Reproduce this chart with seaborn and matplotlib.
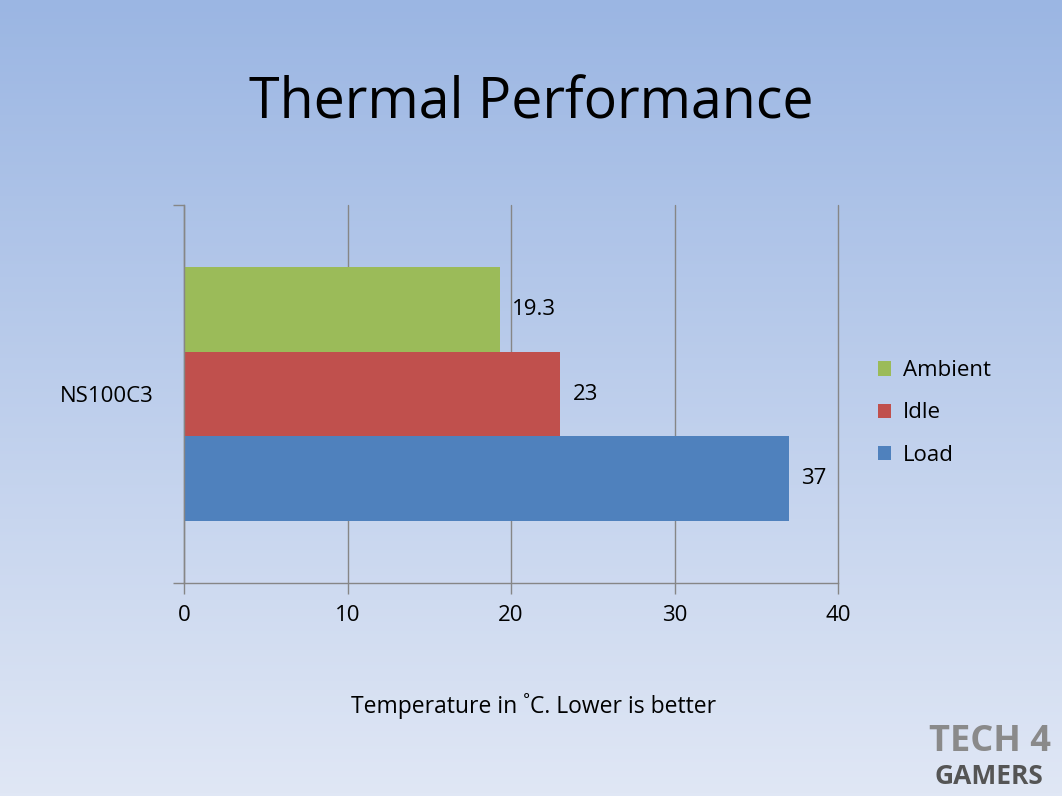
import numpy as np
import pandas as pd
import matplotlib
matplotlib.use("Agg")
import matplotlib.pyplot as plt
import seaborn as sns

# Data
categories = ["NS100C3"]
series = ["Ambient", "Idle", "Load"]
ambient = [19.3]
idle = [23]
load = [37]
xticks = [0, 10, 20, 30, 40]
colors = ["#9BBB59", "#C0504D", "#4F81BD"]

df = pd.DataFrame({
    "cat": categories * 3,
    "series": ["Ambient"] * len(categories) + ["Idle"] * len(categories) + ["Load"] * len(categories),
    "value": ambient + idle + load,
})

sns.set_theme(style="white")
plt.rcParams["font.family"] = ["Open Sans", "DejaVu Sans"]
plt.rcParams["text.color"] = "black"
plt.rcParams["xtick.color"] = "black"
plt.rcParams["ytick.color"] = "black"

fig = plt.figure(figsize=(10.62, 7.96), dpi=100)

# gradient background
bg = fig.add_axes([0, 0, 1, 1], zorder=-10)
top = np.array([155, 182, 227]) / 255
bot = np.array([224, 231, 245]) / 255
t = np.linspace(0, 1, 256)[:, None]
grad = (top[None, :] * (1 - t) + bot[None, :] * t)[:, None, :]
bg.imshow(grad, aspect="auto", extent=[0, 1, 0, 1])
bg.axis("off")

ax = fig.add_axes([184 / 1062, 1 - 583 / 796, (838 - 184) / 1062, (583 - 205) / 796])
ax.set_facecolor("none")

sns.barplot(data=df, y="cat", x="value", hue="series", hue_order=series,
            palette=colors, orient="h", width=0.67, saturation=1,
            linewidth=0, ax=ax, legend=True)

for c in ax.containers:
    ax.bar_label(c, labels=[f"{v:g}" for v in c.datavalues], padding=9,
                 fontsize=16, color="black")

gray = "#868686"
ax.set_xlim(0, 40)
ax.set_ylim(0.5, -0.5)
ax.set_xticks(xticks)
ax.set_xticklabels([str(v) for v in xticks])
ax.grid(axis="x", color=gray, linewidth=1)
for gl in ax.get_xgridlines():
    gl.set_clip_on(False)
ax.set_axisbelow(True)
for s in ["top", "right"]:
    ax.spines[s].set_visible(False)
for s in ["left", "bottom"]:
    ax.spines[s].set_color(gray)
    ax.spines[s].set_linewidth(1)
ax.tick_params(axis="x", direction="out", length=8, color=gray, width=1,
               labelsize=16, pad=8, bottom=True, labelcolor="black")
ax.tick_params(axis="y", which="major", length=0, labelsize=16, pad=22, labelcolor="black")
ax.set_yticks([-0.5, 0.5], minor=True)
ax.tick_params(axis="y", which="minor", direction="out", length=8, color=gray, width=1, left=True)
ax.set_ylabel("")
ax.set_xlabel("")

leg = ax.legend(loc="center left", bbox_to_anchor=(1.03, 0.45), frameon=False,
                fontsize=16, handlelength=0.6, handleheight=0.6, handletextpad=0.55,
                labelspacing=0.95)
for txt in leg.get_texts():
    txt.set_color("black")

fig.text(0.5, 1 - 104 / 796, "Thermal Performance", ha="center", va="center",
         fontsize=40, color="black")
fig.text(0.502, 1 - 706 / 796, "Temperature in ˚C. Lower is better", ha="center",
         va="center", fontsize=16.5, color="black")

# watermark
fig.text(0.875, 1 - 742 / 796, "TECH 4", fontsize=26, fontweight="bold",
         color="#8a8a8a", ha="left", va="center")
fig.text(0.88, 1 - 776 / 796, "GAMERS", fontsize=19, fontweight="bold",
         color="#555555", ha="left", va="center")

fig.savefig("out.png", dpi=100)
